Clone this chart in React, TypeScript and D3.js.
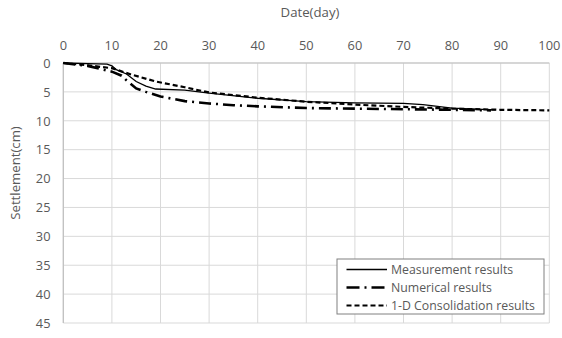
import React from "react";
import * as d3 from "d3";

const xTicks = [0, 10, 20, 30, 40, 50, 60, 70, 80, 90, 100];
const yTicks = [0, 5, 10, 15, 20, 25, 30, 35, 40, 45];

const measDays = [0, 5, 9, 10, 11, 13, 15, 17, 19, 25, 30, 40, 50, 60, 70, 74, 80, 85, 89];
const measVals = [0, 0.1, 0.2, 0.5, 1.2, 1.9, 3.2, 4.0, 4.5, 4.7, 5.2, 6.1, 6.7, 6.9, 7.0, 7.2, 7.8, 8.0, 8.1];

const numDays = [0, 5, 10, 12, 13, 15, 17, 20, 25, 30, 35, 40, 50, 60, 70, 80, 88];
const numVals = [0, 0.5, 1.5, 2.2, 3.0, 4.4, 5.0, 5.8, 6.6, 7.0, 7.3, 7.5, 7.8, 7.9, 8.0, 8.1, 8.2];

const conDays = [0, 5, 10, 14, 19, 25, 30, 40, 50, 60, 70, 80, 90, 100];
const conVals = [0, 0.4, 0.9, 2.0, 3.2, 4.2, 5.1, 6.0, 6.7, 7.2, 7.6, 7.9, 8.1, 8.2];

const seriesNames = ["Measurement results", "Numerical results", "1-D Consolidation results"];

const W = 562, H = 338;
const m = { left: 63.3, right: 549.3, top: 63, bottom: 323 };
const FONT = "'Open Sans', 'Noto Sans', sans-serif";
const TXT = "#595959";

export default function App() {
  const x = d3.scaleLinear().domain([0, 100]).range([m.left, m.right]);
  const y = d3.scaleLinear().domain([0, 45]).range([m.top, m.bottom]);
  const line = d3.line<[number, number]>().x(d => x(d[0])).y(d => y(d[1]));
  const mk = (ds: number[], vs: number[]) => line(ds.map((d, i) => [d, vs[i]] as [number, number])) || "";

  const styles = [
    { w: 1.3, dash: undefined as string | undefined },
    { w: 2.6, dash: "12 5 2 5" },
    { w: 2.2, dash: "5 3" },
  ];
  const paths = [mk(measDays, measVals), mk(numDays, numVals), mk(conDays, conVals)];

  const lg = { x: 337, y: 259, w: 207, h: 55 };
  return (
    <svg width={W} height={H} style={{ position: "absolute", left: 0, top: 0 }} fontFamily={FONT}>
      <rect width={W} height={H} fill="#fff" />
      {xTicks.map(t => (
        <line key={"gx" + t} x1={x(t)} x2={x(t)} y1={m.top} y2={m.bottom} stroke="#d9d9d9" strokeWidth={1} />
      ))}
      {yTicks.map(t => (
        <line key={"gy" + t} x1={m.left} x2={m.right} y1={y(t)} y2={y(t)} stroke="#d9d9d9" strokeWidth={1} />
      ))}
      <line x1={m.left} x2={m.left} y1={m.top} y2={m.bottom} stroke="#bfbfbf" strokeWidth={1.2} />
      <line x1={m.left} x2={m.right} y1={m.top} y2={m.top} stroke="#bfbfbf" strokeWidth={1.2} />
      {xTicks.map(t => (
        <text key={"tx" + t} x={x(t)} y={49.5} textAnchor="middle" fontSize={12.8} fill={TXT}>{t}</text>
      ))}
      {yTicks.map(t => (
        <text key={"ty" + t} x={50.5} y={y(t) + 4.8} textAnchor="end" fontSize={12.8} fill={TXT}>{t}</text>
      ))}
      <text x={310} y={17} textAnchor="middle" fontSize={13.2} fill={TXT}>Date(day)</text>
      <text transform={`translate(20,173) rotate(-90)`} textAnchor="middle" fontSize={13.2} fill={TXT}>Settlement(cm)</text>
      {paths.map((p, i) => (
        <path key={"p" + i} d={p} fill="none" stroke="#000" strokeWidth={styles[i].w} strokeDasharray={styles[i].dash} />
      ))}
      <rect x={lg.x} y={lg.y} width={lg.w} height={lg.h} fill="#fff" stroke="#808080" strokeWidth={1} />
      {seriesNames.map((n, i) => {
        const yy = 269.5 + i * 18;
        return (
          <g key={"l" + i}>
            <line x1={346.5} x2={387} y1={yy} y2={yy} stroke="#000" strokeWidth={styles[i].w} strokeDasharray={i === 1 ? "13 5 2 5" : styles[i].dash} />
            <text x={391} y={yy + 4.5} fontSize={12.3} fill={TXT}>{n}</text>
          </g>
        );
      })}
    </svg>
  );
}
